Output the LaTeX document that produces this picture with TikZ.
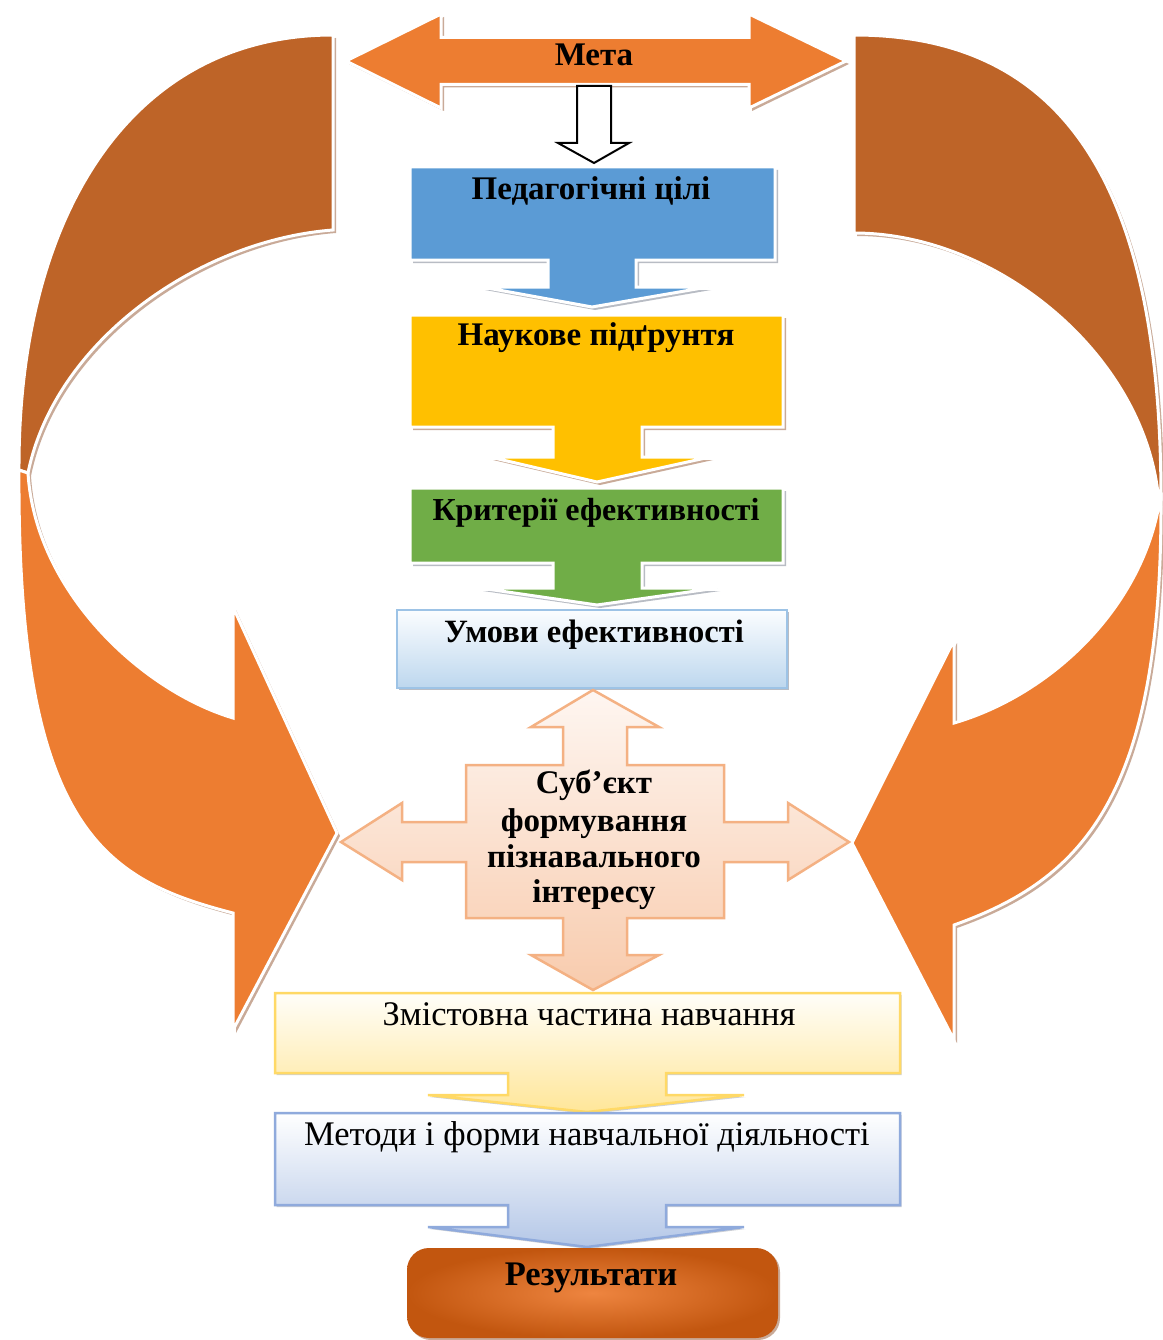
\documentclass[tikz,border=0pt]{standalone}
\usepackage{fontspec}
\setmainfont{Liberation Serif}
\usetikzlibrary{shadows}
\definecolor{orangeL}{HTML}{ED7D31}
\definecolor{orangeD}{HTML}{BE6428}
\definecolor{shbrown}{HTML}{C9AA98}
\definecolor{shgray}{HTML}{B8BCC4}
\definecolor{blueF}{HTML}{5B9BD5}
\definecolor{yellowF}{HTML}{FFC000}
\definecolor{greenF}{HTML}{70AD47}
\definecolor{umTop}{HTML}{FBFDFF}
\definecolor{umBot}{HTML}{BDD7EE}
\definecolor{umLine}{HTML}{9DC3E6}
\definecolor{qTop}{HTML}{FEF6F1}
\definecolor{qBot}{HTML}{F8CBAD}
\definecolor{qLine}{HTML}{F4B183}
\definecolor{zTop}{HTML}{FFFEF9}
\definecolor{zBot}{HTML}{FFE699}
\definecolor{zLine}{HTML}{FFD966}
\definecolor{mTop}{HTML}{FFFFFF}
\definecolor{mBot}{HTML}{B4C7E7}
\definecolor{mLine}{HTML}{8FAADC}
\definecolor{rIn}{HTML}{EE8540}
\definecolor{rOut}{HTML}{C2560F}
\begin{document}
\begin{tikzpicture}[x=1pt,y=-1pt,
  fx/.style={fill=#1, draw=white, line width=3pt, line join=miter,
    drop shadow={shadow xshift=3pt, shadow yshift=-3pt, fill=shbrown, opacity=1}},
  fxg/.style={fill=#1, draw=white, line width=3pt, line join=miter,
    drop shadow={shadow xshift=3pt, shadow yshift=-3pt, fill=shgray, opacity=1}},
  grad/.style 2 args={top color=#1, bottom color=#2},
  lbl/.style={font=\fontsize{34.5}{38}\selectfont, anchor=base, inner sep=0pt},
  lblb/.style={font=\fontsize{33}{37}\selectfont\bfseries, anchor=base, inner sep=0pt},
]
\useasboundingbox (0,0) rectangle (1162,1340);
\fill[white] (0,0) rectangle (1162,1340);

% ---- big curved arrows (back parts)
\path[fx=orangeD] (333,35) .. controls (128,35) and (18,220) .. (19,470) -- (28,473)
  .. controls (55,340) and (200,240) .. (333,230) -- cycle;
\path[fx=orangeD] (854,35) .. controls (1074,35) and (1161,200) .. (1161,500) -- (1159,505)
  .. controls (1150,360) and (1000,233) .. (854,233) -- cycle;
% ---- big curved arrows (front parts)
\path[fx=orangeL] (19,470) .. controls (17,830) and (105,880) .. (233,913) -- (233,1030)
  -- (337,833) -- (233,607) -- (233,718) .. controls (140,690) and (35,590) .. (28,473) -- cycle;
\path[fx=orangeL] (1161,500) .. controls (1162,800) and (1080,880) .. (954,925) -- (954,1040)
  -- (852,843) -- (954,640) -- (954,723) .. controls (1050,695) and (1140,610) .. (1159,505) -- cycle;

% ---- Мета double arrow
\path[fx=orangeL] (346,61) -- (441,14) -- (441,37.5) -- (749,37.5) -- (749,14) -- (846,61)
  -- (749,108) -- (749,84.5) -- (441,84.5) -- (441,108) -- cycle;
\node[lblb] (meta) at (594,66) {Мета};

% ---- hollow arrow
\draw[fill=white, line width=2pt, line join=miter] (577,86) -- (611,86) -- (611,143) -- (629,143)
  -- (594,163) -- (558,143) -- (577,143) -- cycle;

% ---- callouts
\path[fxg=blueF] (410,167) -- (775,167) -- (775,260) -- (636,260) -- (636,287) -- (708,287)
  -- (592,307) -- (482,287) -- (548,287) -- (548,260) -- (410,260) -- cycle;
\node[lblb] (ped) at (591,200) {Педагогічні цілі};

\path[fx=yellowF] (410,315) -- (783,315) -- (783,427) -- (642,427) -- (642,457) -- (710,457)
  -- (597,482) -- (490,457) -- (553,457) -- (553,427) -- (410,427) -- cycle;
\node[lblb] (nauk) at (596,345) {Наукове підґрунтя};

\path[fxg=greenF] (410,488) -- (783,488) -- (783,563) -- (642,563) -- (642,588) -- (717,588)
  -- (597,605) -- (480,588) -- (553,588) -- (553,563) -- (410,563) -- cycle;
\node[lblb, font=\fontsize{32}{36}\selectfont\bfseries] (krit) at (596,520) {Критерії ефективності};

\path[grad={umTop}{umBot}, draw=umLine, line width=2.5pt,
  drop shadow={shadow xshift=1.5pt, shadow yshift=-2pt, fill=shgray, opacity=1}]
  (397,610) rectangle (787,688);
\node[lblb, font=\fontsize{32.5}{36}\selectfont\bfseries] (umovy) at (594,642) {Умови ефективності};

% ---- quad arrow
\path[grad={qTop}{qBot}, draw=qLine, line width=2.5pt, line join=miter]
  (593,690) -- (659,727) -- (627,727) -- (627,765) -- (724,765) -- (724,822) -- (788,822)
  -- (788,803) -- (849,842) -- (788,880) -- (788,862) -- (724,862) -- (724,918) -- (627,918)
  -- (627,955) -- (659,955) -- (593,990) -- (531,955) -- (563,955) -- (563,918) -- (466,918)
  -- (466,862) -- (402,862) -- (402,880) -- (341,842) -- (402,803) -- (402,822) -- (466,822)
  -- (466,765) -- (563,765) -- (563,727) -- (531,727) -- cycle;
\node[lblb] (sub1) at (594,793) {Суб’єкт};
\node[lblb] (sub2) at (594,831) {формування};
\node[lblb] (sub3) at (594,867) {пізнавального};
\node[lblb] (sub4) at (594,902) {інтересу};

% ---- Змістовна
\path[grad={zTop}{zBot}, draw=zLine, line width=2.5pt, line join=miter,
  drop shadow={shadow xshift=1.5pt, shadow yshift=-2pt, fill=shgray!70, opacity=1}]
  (275,993) -- (900,993) -- (900,1073) -- (666,1073) -- (666,1095) -- (744,1095)
  -- (587,1112) -- (428,1095) -- (508,1095) -- (508,1073) -- (275,1073) -- cycle;
\node[lbl] (zmist) at (589,1025) {Змістовна частина навчання};

% ---- Методи
\path[grad={mTop}{mBot}, draw=mLine, line width=2.5pt, line join=miter,
  drop shadow={shadow xshift=1.5pt, shadow yshift=-2pt, fill=shgray!70, opacity=1}]
  (275,1113) -- (900,1113) -- (900,1205) -- (666,1205) -- (666,1227) -- (744,1227)
  -- (587,1247) -- (428,1227) -- (508,1227) -- (508,1205) -- (275,1205) -- cycle;
\node[lbl] (metody) at (587,1145) {Методи і форми навчальної діяльності};

% ---- Результати
\path[rounded corners=22pt, inner color=rIn, outer color=rOut,
  drop shadow={shadow xshift=2pt, shadow yshift=-2pt, fill=shbrown, opacity=1}]
  (407,1248) rectangle (778,1338);
\node[lblb, font=\fontsize{34.5}{38}\selectfont\bfseries] (rez) at (591,1285) {Результати};
\end{tikzpicture}
\end{document}
